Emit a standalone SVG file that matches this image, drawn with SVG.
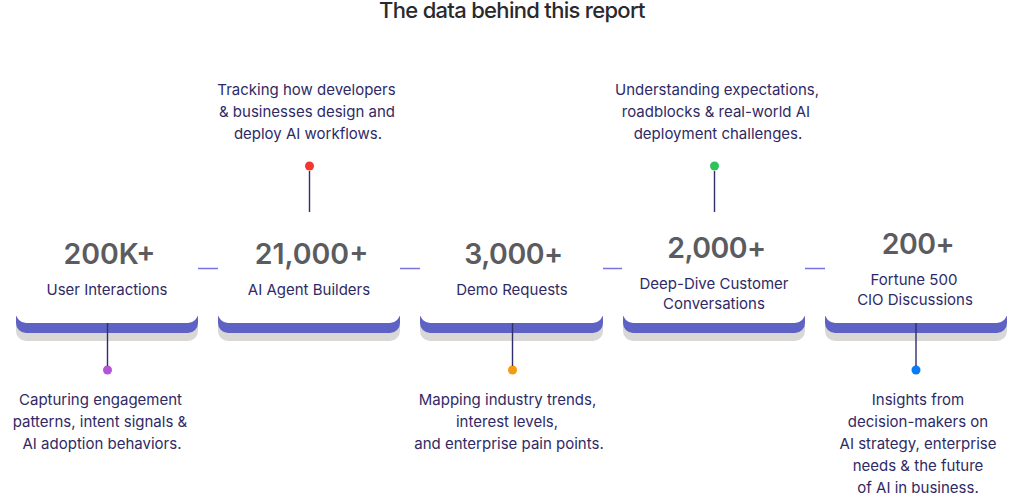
<svg xmlns="http://www.w3.org/2000/svg" width="1024" height="497" viewBox="0 0 1024 497">
<style>
text{font-family:"Inter","Liberation Sans",sans-serif;text-anchor:middle}
.title{font-size:22px;font-weight:500;fill:#2a2a2e;letter-spacing:-.7px}
.num{font-size:28.500px;font-weight:600;fill:#5c5c60}
.tight{letter-spacing:-.5px}
.lab,.desc{font-size:15px;fill:#2f2a66}
.shadow{fill:#d9d8d6}.band{fill:#5d62c4}.face{fill:#fff}
.stem{stroke:#2f2f6b;stroke-width:1.4;fill:none}
.dash{stroke:#7a74e0;stroke-width:1.3;fill:none}
</style>
<rect width="1024" height="497" fill="#fff"/>
<text class="title" x="512" y="18">The data behind this report</text>
<g id="card-1">
<path class="shadow" d="M16 320H198V331a10 10 0 0 1-10 10H26a10 10 0 0 1-10-10Z"/>
<path class="band" d="M16 316H198V323a10 10 0 0 1-10 10H26a10 10 0 0 1-10-10Z"/>
<path class="face" d="M16 300H198V313a10 10 0 0 1-10 10H26a10 10 0 0 1-10-10Z"/>
<text class="num" x="109.500" y="264">200K+</text><text class="lab" x="107" y="295">User Interactions</text>
<circle cx="107.500" cy="370" r="4.500" fill="#b455d8"/>
<text class="desc" x="100.500" y="405">Capturing engagement</text><text class="desc" x="100" y="427">patterns, intent signals &amp;</text><text class="desc" x="102" y="449">AI adoption behaviors.</text>
</g>
<g id="card-2">
<path class="shadow" d="M218 320H400V331a10 10 0 0 1-10 10H228a10 10 0 0 1-10-10Z"/>
<path class="band" d="M218 316H400V323a10 10 0 0 1-10 10H228a10 10 0 0 1-10-10Z"/>
<path class="face" d="M218 300H400V313a10 10 0 0 1-10 10H228a10 10 0 0 1-10-10Z"/>
<text class="num" x="311.500" y="264">21,000+</text><text class="lab" x="309" y="295">AI Agent Builders</text>
<circle cx="309.500" cy="166" r="4.500" fill="#f5352f"/>
<text class="desc" x="306.500" y="95">Tracking how developers</text><text class="desc" x="307" y="117">&amp; businesses design and</text><text class="desc" x="308" y="139">deploy AI workflows.</text>
</g>
<g id="card-3">
<path class="shadow" d="M420 320H603V331a10 10 0 0 1-10 10H430a10 10 0 0 1-10-10Z"/>
<path class="band" d="M420 316H603V323a10 10 0 0 1-10 10H430a10 10 0 0 1-10-10Z"/>
<path class="face" d="M420 300H603V313a10 10 0 0 1-10 10H430a10 10 0 0 1-10-10Z"/>
<text class="num tight" x="513.500" y="264">3,000+</text><text class="lab" x="512" y="295">Demo Requests</text>
<circle cx="512.500" cy="370" r="4.500" fill="#f59a12"/>
<text class="desc" x="507.500" y="405">Mapping industry trends,</text><text class="desc" x="507" y="427">interest levels,</text><text class="desc" x="509" y="449">and enterprise pain points.</text>
</g>
<g id="card-4">
<path class="shadow" d="M623 320H805V331a10 10 0 0 1-10 10H633a10 10 0 0 1-10-10Z"/>
<path class="band" d="M623 316H805V323a10 10 0 0 1-10 10H633a10 10 0 0 1-10-10Z"/>
<path class="face" d="M623 300H805V313a10 10 0 0 1-10 10H633a10 10 0 0 1-10-10Z"/>
<text class="num tight" x="716.500" y="258">2,000+</text><text class="lab" x="714" y="289">Deep-Dive Customer</text><text class="lab" x="714" y="309">Conversations</text>
<circle cx="714.500" cy="166" r="4.500" fill="#2fc25b"/>
<text class="desc" x="717" y="95">Understanding expectations,</text><text class="desc" x="716" y="117">roadblocks &amp; real-world AI</text><text class="desc" x="718" y="139">deployment challenges.</text>
</g>
<g id="card-5">
<path class="shadow" d="M825 320H1007V331a10 10 0 0 1-10 10H835a10 10 0 0 1-10-10Z"/>
<path class="band" d="M825 316H1007V323a10 10 0 0 1-10 10H835a10 10 0 0 1-10-10Z"/>
<path class="face" d="M825 300H1007V313a10 10 0 0 1-10 10H835a10 10 0 0 1-10-10Z"/>
<text class="num tight" x="918" y="254">200+</text><text class="lab" x="914" y="285">Fortune 500</text><text class="lab" x="915" y="305">CIO Discussions</text>
<circle cx="916" cy="370" r="4.500" fill="#0a7cf5"/>
<text class="desc" x="918" y="405">Insights from</text><text class="desc" x="918" y="427">decision-makers on</text><text class="desc" x="918" y="449">AI strategy, enterprise</text><text class="desc" x="918" y="471">needs &amp; the future</text><text class="desc" x="918" y="493">of AI in business.</text>
</g>
<g id="connectors">
<path class="stem" d="M107.500 323V366M309.500 171V212M512.500 323V366M714.500 171V212M916 323V366"/>
<path class="dash" d="M198 268.500H218M400 268.500H420M603 268.500H622M805 268.500H825"/>
</g>
</svg>
